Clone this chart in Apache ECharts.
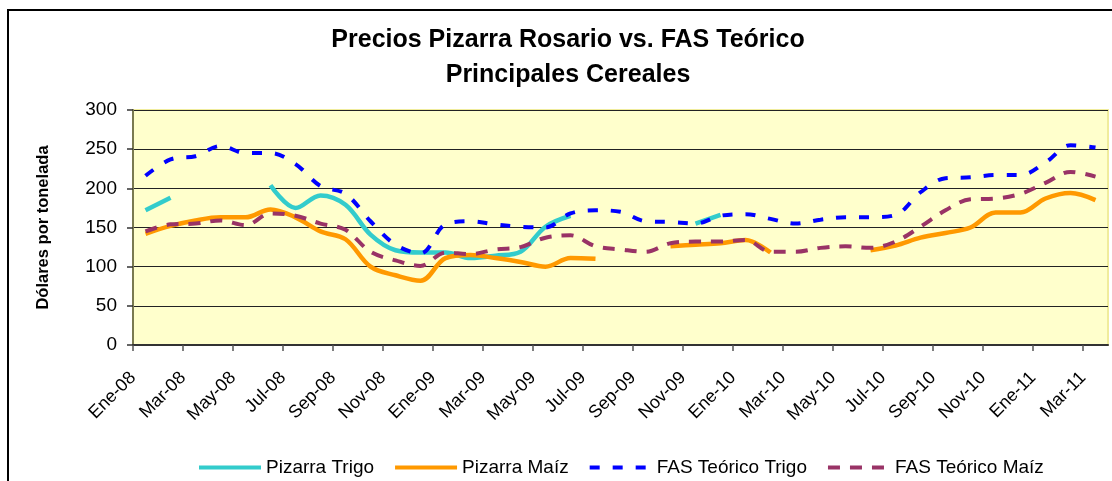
<!DOCTYPE html>
<html>
<head>
<meta charset="utf-8">
<title>Precios Pizarra Rosario vs. FAS Teórico</title>
<script src="https://cdn.jsdelivr.net/npm/echarts@6/dist/echarts.min.js"></script>
<style>
  html, body { margin: 0; padding: 0; background: #fff; }
  #main { width: 1112px; height: 481px; }
</style>
</head>
<body>
<div id="main"></div>
<script>
// meses, Ene-08 .. Mar-11 (un dato por mes)
const meses = [
  "Ene-08", "Feb-08", "Mar-08", "Abr-08", "May-08", "Jun-08", "Jul-08", "Ago-08", "Sep-08", "Oct-08", "Nov-08", "Dic-08",
  "Ene-09", "Feb-09", "Mar-09", "Abr-09", "May-09", "Jun-09", "Jul-09", "Ago-09", "Sep-09", "Oct-09", "Nov-09", "Dic-09",
  "Ene-10", "Feb-10", "Mar-10", "Abr-10", "May-10", "Jun-10", "Jul-10", "Ago-10", "Sep-10", "Oct-10", "Nov-10", "Dic-10",
  "Ene-11", "Feb-11", "Mar-11"
];
// etiquetas cada dos meses
const ticksX = [0, 2, 4, 6, 8, 10, 12, 14, 16, 18, 20, 22, 24, 26, 28, 30, 32, 34, 36, 38];

const pizarraTrigo = [
  172, 188, null, null, null, 204, 175, 191, 179, 141, 121, 118,
  118, 111, 114, 119, 151, 165, null, null, null, null, 155, 166,
  null, null, null, null, null, null, null, null, null, null, null, null,
  null, null, null
];
const pizarraMaiz = [
  142, 152, 159, 163, 163, 173, 163, 145, 135, 100, 89, 82,
  111, 115, 111, 106, 100, 111, 110, null, null, 126, 128, 130,
  134, 118, null, null, null, 121, 127, 137, 143, 150, 169, 169,
  187, 194, 185
];
const fasTrigo = [
  216, 237, 241, 254, 245, 245, 231, 203, 193, 158, 128, 117,
  154, 158, 154, 151, 150, 168, 172, 170, 158, 157, 155, 165,
  167, 161, 155, 160, 163, 163, 166, 195, 213, 214, 217, 217,
  233, 255, 252
];
const fasMaiz = [
  145, 154, 155, 159, 153, 168, 165, 155, 147, 119, 108, 101,
  118, 116, 122, 125, 137, 140, 126, 122, 119, 130, 132, 132,
  134, 119, 119, 124, 126, 124, 132, 151, 172, 186, 187, 193,
  207, 221, 215
];

// cada dato va al centro de su mes
const toPoints = arr => arr.map((v, i) => [i + 0.5, v]);

const fuente = '"Liberation Sans", Arial, sans-serif';

const chart = echarts.init(document.getElementById("main"));

const option = {
  animation: false,
  textStyle: { fontFamily: fuente, color: "#000" },
  title: {
    text: "Precios Pizarra Rosario vs. FAS Teórico\nPrincipales Cereales",
    left: 568,
    top: 23,
    padding: 0,
    textAlign: "center",
    textStyle: {
      fontFamily: fuente,
      fontSize: 25,
      fontWeight: "bold",
      lineHeight: 35,
      color: "#000"
    }
  },
  graphic: [
    {
      type: "rect",
      silent: true,
      shape: { x: 8, y: 10, width: 1200, height: 600 },
      style: { fill: "none", stroke: "#000", lineWidth: 2 }
    }
  ],
  legend: {
    left: 192,
    top: 453,
    itemWidth: 62,
    itemHeight: 18,
    itemGap: 19,
    itemStyle: { opacity: 0 },
    lineStyle: { width: 4 },
    textStyle: { fontFamily: fuente, fontSize: 19, color: "#000" },
    data: ["Pizarra Trigo", "Pizarra Maíz", "FAS Teórico Trigo", "FAS Teórico Maíz"]
  },
  grid: {
    left: 133,
    right: 4,
    top: 110,
    bottom: 136,
    show: true,
    backgroundColor: "#FFFFCC",
    borderColor: "#F0EC9C",
    borderWidth: 2
  },
  xAxis: {
    type: "value",
    min: 0,
    max: 39,
    splitLine: { show: false },
    axisLine: { show: true, lineStyle: { color: "#333", width: 2 } },
    axisTick: {
      show: true,
      length: 6,
      customValues: ticksX,
      lineStyle: { color: "#555", width: 1.5 }
    },
    axisLabel: {
      customValues: ticksX,
      rotate: 45,
      margin: 30,
      fontFamily: fuente,
      fontSize: 18,
      color: "#000",
      formatter: v => meses[v] || ""
    }
  },
  yAxis: {
    type: "value",
    min: 0,
    max: 300,
    interval: 50,
    name: "Dólares por tonelada",
    nameLocation: "middle",
    nameGap: 81,
    nameTextStyle: { fontFamily: fuente, fontSize: 16.5, fontWeight: "bold", color: "#000" },
    axisLine: { show: true, lineStyle: { color: "#7A7A50", width: 2 } },
    axisTick: { show: true, length: 6, lineStyle: { color: "#333", width: 1.5 } },
    axisLabel: { margin: 16, fontFamily: fuente, fontSize: 19, color: "#000" },
    splitLine: { show: true, lineStyle: { color: "#222", width: 1.2 } }
  },
  series: [
    {
      name: "Pizarra Trigo",
      type: "line",
      data: toPoints(pizarraTrigo),
      smooth: 0.35,
      symbol: "none",
      connectNulls: false,
      color: "#33CCCC",
      lineStyle: { color: "#33CCCC", width: 4.5 }
    },
    {
      name: "Pizarra Maíz",
      type: "line",
      data: toPoints(pizarraMaiz),
      smooth: 0.35,
      symbol: "none",
      connectNulls: false,
      color: "#FF9900",
      lineStyle: { color: "#FF9900", width: 4.5 }
    },
    {
      name: "FAS Teórico Trigo",
      type: "line",
      data: toPoints(fasTrigo),
      smooth: 0.35,
      symbol: "none",
      color: "#0000FF",
      lineStyle: { color: "#0000FF", width: 4, type: [10, 13] }
    },
    {
      name: "FAS Teórico Maíz",
      type: "line",
      data: toPoints(fasMaiz),
      smooth: 0.35,
      symbol: "none",
      color: "#993366",
      lineStyle: { color: "#993366", width: 4, type: [12, 10] }
    }
  ]
};

chart.setOption(option);
</script>
</body>
</html>
